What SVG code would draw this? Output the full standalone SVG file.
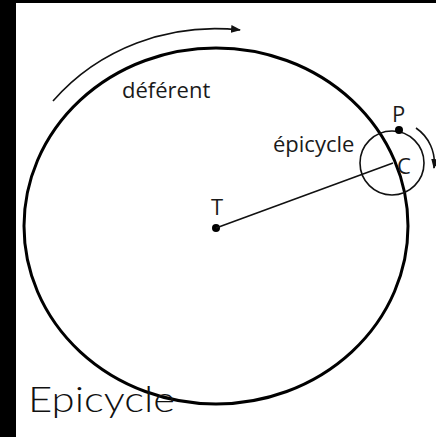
<svg xmlns="http://www.w3.org/2000/svg" width="436" height="437" viewBox="0 0 436 437">
<style>
.lbl{font-family:"Open Sans","Liberation Sans",sans-serif;font-size:22px;fill:#1a1a1a}
.thin{fill:none;stroke:#111;stroke-width:1.6}
</style>
<defs>
<marker id="ah" markerWidth="10" markerHeight="8" refX="9" refY="4" orient="auto" markerUnits="userSpaceOnUse">
<path d="M0,0 L10,4 L0,8 Z" fill="#111"/>
</marker>
</defs>
<rect x="0" y="0" width="436" height="437" fill="#fff"/>
<rect x="0" y="0" width="16" height="437" fill="#000"/>
<rect x="0" y="0" width="436" height="3" fill="#000"/>
<g id="deferent">
<ellipse cx="216" cy="226" rx="192" ry="178" fill="none" stroke="#000" stroke-width="3"/>
<text class="lbl" x="122" y="98">déférent</text>
</g>
<g id="epicycle">
<circle cx="392" cy="163" r="32" class="thin"/>
<text class="lbl" x="273" y="152">épicycle</text>
</g>
<g id="T">
<circle cx="216" cy="228" r="4" fill="#000"/>
<text class="lbl" x="211" y="215">T</text>
</g>
<g id="C">
<text class="lbl" x="397" y="174">C</text>
</g>
<g id="P">
<circle cx="399" cy="130" r="4" fill="#000"/>
<text class="lbl" x="392" y="122">P</text>
</g>
<g id="connectors">
<line x1="216" y1="228" x2="393" y2="163" stroke="#111" stroke-width="1.6"/>
<path d="M53,101 A210,198 0 0 1 240,30" class="thin" marker-end="url(#ah)"/>
<path d="M416,128 A42,42 0 0 1 434,168" class="thin" marker-end="url(#ah)"/>
</g>
<text x="28" y="412" font-family="Lato,'Liberation Sans',sans-serif" font-weight="300" font-size="35" fill="#111" textLength="147" lengthAdjust="spacingAndGlyphs">Epicycle</text>
</svg>
